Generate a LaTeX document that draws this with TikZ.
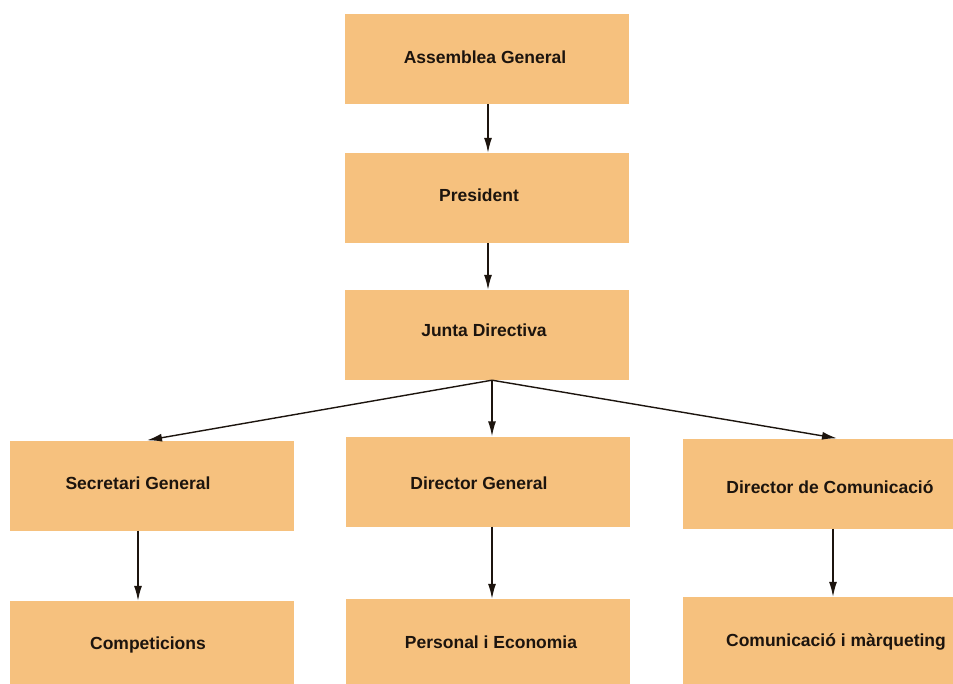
\documentclass[tikz,border=0pt]{standalone}
\usepackage{fontspec}
\setmainfont{Liberation Sans}
\usetikzlibrary{arrows.meta}
\definecolor{boxfill}{RGB}{246,193,126}
\definecolor{ink}{RGB}{28,20,14}
\begin{document}
\begin{tikzpicture}[x=1pt,y=-1pt,
  orgbox/.style={fill=boxfill,draw=none,inner sep=0pt,minimum width=284pt,minimum height=90pt},
  lbl/.style={anchor=base,inner sep=0pt,text=ink,font=\fontsize{17.5}{20}\selectfont\bfseries},
  link/.style={draw=ink,line width=1.4pt,-{Latex[length=15pt,width=8pt]}}]
\useasboundingbox (0,0) rectangle (953,684);
\clip (0,0) rectangle (953,684);
\fill[white] (0,0) rectangle (953,684);

% boxes
\node[orgbox] (ag)   at (487,59)    {};
\node[orgbox] (pr)   at (487,198)   {};
\node[orgbox] (jd)   at (487,335)   {};
\node[orgbox] (sg)   at (152,485.5) {};
\node[orgbox] (dg)   at (487.5,481.5) {};
\node[orgbox] (dc)   at (825,483.5) {};
\node[orgbox] (comp) at (152,646)   {};
\node[orgbox] (pe)   at (487.5,644) {};
\node[orgbox] (cm)   at (825,642)   {};

% labels
\node[lbl] (agT)   at (485,63.5)  {Assemblea General};
\node[lbl] (prT)   at (479,201.5) {President};
\node[lbl] (jdT)   at (484,337)   {Junta Directiva};
\node[lbl] (sgT)   at (138,489)   {Secretari General};
\node[lbl] (dgT)   at (479,489)   {Director General};
\node[lbl] (dcT)   at (830,493)   {Director de Comunicació};
\node[lbl] (compT) at (148,649)   {Competicions};
\node[lbl] (peT)   at (491,648)   {Personal i Economia};
\node[lbl] (cmT)   at (836,646)   {Comunicació i màrqueting};

% connectors
\draw[link] ([xshift=1pt]ag.south) -- ([xshift=1pt]pr.north);
\draw[link] ([xshift=1pt]pr.south) -- ([xshift=1pt]jd.north);
\coordinate (fan) at ([xshift=5pt]jd.south);
\draw[link] (fan) -- ([xshift=-5pt]sg.north);
\draw[link] (fan) -- ([xshift=4.5pt]dg.north);
\draw[link] (fan) -- ([xshift=12pt]dc.north);
\draw[link] ([xshift=-14pt]sg.south) -- ([xshift=-14pt]comp.north);
\draw[link] ([xshift=4.5pt]dg.south) -- ([xshift=4.5pt]pe.north);
\draw[link] ([xshift=8pt]dc.south) -- ([xshift=8pt]cm.north);
\end{tikzpicture}
\end{document}
